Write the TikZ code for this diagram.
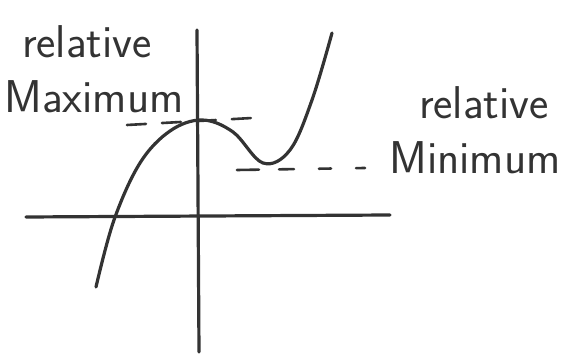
\documentclass[tikz,border=0pt]{standalone}
\usepackage{tikz}

\begin{document}
\begin{tikzpicture}[x=1pt, y=-1pt, pen/.style={line width=3.2pt, draw=black!80, line cap=round, line join=round}, guide/.style={pen, line width=2.6pt, dash pattern=on 19pt off 16pt}, lbl/.style={text=black!80, inner sep=0pt, font=\sffamily\fontsize{46}{50}\selectfont}]
	\useasboundingbox (0,0) rectangle (571,355);
	% axes
	\coordinate (xl) at (26,217);
	\coordinate (xr) at (390,215);
	\coordinate (yt) at (197,30);
	\coordinate (yb) at (199,352);
	\draw[pen] (xl) -- (xr);
	\draw[pen] (yt) -- (yb);
	% the cubic
	\coordinate (cmax) at (202,120);
	\coordinate (cmin) at (263,163);
	\draw[pen] plot[smooth, tension=0.6] coordinates {(96,287) (114,220) (140,163) (170,131) (cmax) (233,132) (cmin) (290,150) (312,100) (332,33)};
	% guide lines
	\coordinate (mxa) at (127,125);
	\coordinate (mxb) at (252,118);
	\coordinate (mna) at (237,170);
	\coordinate (mnb) at (365,168);
	\draw[guide] (mxa) -- (mxb);
	\draw[guide, dash pattern=on 22pt off 20pt on 15pt off 25pt on 12pt off 25pt] (mna) -- (mnb);
	% labels
	\node[lbl] (rel1) at (87,42) {relative};
	\node[lbl] (maxl) at (94,97) {Maximum};
	\node[lbl] (rel2) at (484,103) {relative};
	\node[lbl] (minl) at (475,158) {Minimum};
\end{tikzpicture}
\end{document}
